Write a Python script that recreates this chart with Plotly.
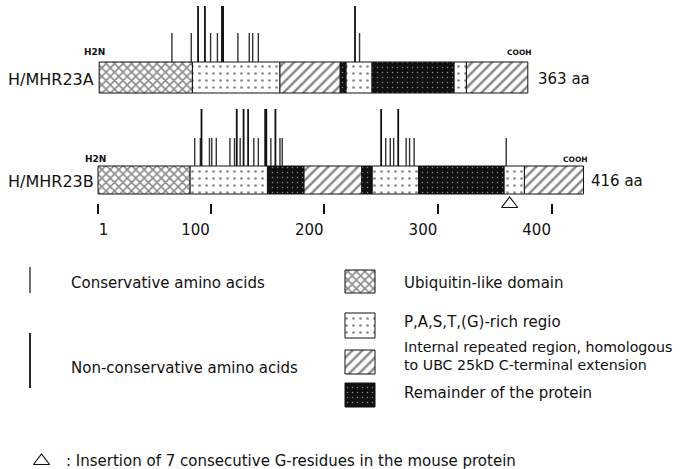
import plotly.graph_objects as go

W, H = 690, 469
PX0, PXS = 96.9, 1.137  # pixel of residue 0, pixels per residue


def aa(px):
    return (px - PX0) / PXS


def fx(px):
    return px / W


def fy(py):
    return 1 - py / H


# ---------------- data ----------------
protein_names = ["H/MHR23A", "H/MHR23B"]
protein_lengths = ["363 aa", "416 aa"]
a_bounds = [2, 84, 161, 214, 219, 242, 314, 325, 379]
a_types = ["ubq", "past", "rep", "rem", "past", "rem", "past", "rep"]
b_bounds = [1, 82, 150, 182, 233, 242, 283, 358, 376, 428]
b_types = ["ubq", "past", "rem", "rep", "rem", "past", "rem", "past", "rep"]
a_cons = [66, 83, 100, 106, 124, 134, 137, 142, 231]
a_noncons = [89, 95, 110, 111, 227]
b_cons = [86, 91, 99, 101, 105, 117, 121, 126, 138, 142, 153, 161, 163,
          254, 258, 261, 272, 275, 279, 360]
b_noncons = [92, 123, 129, 133, 148, 149, 157, 250, 265]
insertion_pos = [363]
tick_vals = [1, 100, 200, 300, 400]
region_types = ["ubq", "past", "rep", "rem"]
region_labels = ["Ubiquitin-like domain", "P,A,S,T,(G)-rich regio",
                 "Internal repeated region, homologous<br>to UBC 25kD C-terminal extension",
                 "Remainder of the protein"]

# ---------------- styles ----------------
FONT = "DejaVu Sans, Liberation Sans, Arial"
INK = "#111111"
pat = {
    "ubq": dict(shape="x", bgcolor="white", fgcolor=INK, size=6, solidity=0.45),
    "past": dict(shape=".", bgcolor="white", fgcolor=INK, size=7, solidity=0.12),
    "rep": dict(shape="/", bgcolor="white", fgcolor=INK, size=7, solidity=0.35),
    "rem": dict(shape=".", bgcolor=INK, fgcolor="white", size=5, solidity=0.07),
}

rows = [  # (center y px, height px)
    (77.5, 31),
    (180, 28),
]
swatch_rows = {"ubq": (281.5, 23), "past": (325.5, 25), "rep": (362, 24), "rem": (395, 24)}

fig = go.Figure()

for t in region_types:
    base, length, ys, widths = [], [], [], []
    for (bounds, types), (yc, hgt) in zip([(a_bounds, a_types), (b_bounds, b_types)], rows):
        for i, tt in enumerate(types):
            if tt == t:
                base.append(bounds[i])
                length.append(bounds[i + 1] - bounds[i])
                ys.append(yc)
                widths.append(hgt)
    # legend swatch
    sy, sh = swatch_rows[t]
    base.append(aa(345))
    length.append(aa(375) - aa(345))
    ys.append(sy)
    widths.append(sh)
    fig.add_trace(go.Bar(
        orientation="h", base=base, x=length, y=ys, width=widths,
        marker=dict(color=pat[t]["bgcolor"], pattern=pat[t],
                    line=dict(color=INK, width=1)),
        hoverinfo="skip", showlegend=False))


def vlines(positions, bottom, top):
    xs, ys = [], []
    for p in positions:
        xs += [p, p, None]
        ys += [bottom, top, None]
    return xs, ys


line_specs = [
    (a_cons, 62, 33, 1.4, "#333333"),
    (a_noncons, 62, 6, 1.8, INK),
    (b_cons, 166, 138, 1.4, "#333333"),
    (b_noncons, 166, 109, 1.8, INK),
]
for pos, bot, top, w, c in line_specs:
    xs, ys = vlines(pos, bot, top)
    fig.add_trace(go.Scatter(x=xs, y=ys, mode="lines",
                             line=dict(color=c, width=w),
                             hoverinfo="skip", showlegend=False))

# legend lines
xs, ys = vlines([aa(30)], 293, 267)
fig.add_trace(go.Scatter(x=xs, y=ys, mode="lines", line=dict(color="#333333", width=1.4),
                         hoverinfo="skip", showlegend=False))
xs, ys = vlines([aa(30)], 388, 333)
fig.add_trace(go.Scatter(x=xs, y=ys, mode="lines", line=dict(color=INK, width=1.8),
                         hoverinfo="skip", showlegend=False))

# insertion triangles
fig.add_trace(go.Scatter(x=insertion_pos, y=[204] * len(insertion_pos), mode="markers",
                         marker=dict(symbol="triangle-up-open", size=14,
                                     color=INK, line=dict(color=INK, width=1.2)),
                         hoverinfo="skip", showlegend=False))
fig.add_trace(go.Scatter(x=[aa(41.5)], y=[461], mode="markers",
                         marker=dict(symbol="triangle-up-open", size=14,
                                     color=INK, line=dict(color=INK, width=1.2)),
                         hoverinfo="skip", showlegend=False))

# invisible trace so the second (overlaying) axis carrying the "1" tick is drawn
fig.add_trace(go.Scatter(x=tick_vals[:1], y=[203], xaxis="x2", mode="markers",
                         marker=dict(opacity=0), hoverinfo="skip", showlegend=False))

# ---------------- text ----------------
ann = []


def text(t, px, py, size, bold=False, anchor="left"):
    s = f"<b>{t}</b>" if bold else t
    ann.append(dict(text=s, x=fx(px), y=fy(py), xref="paper", yref="paper",
                    xanchor=anchor, yanchor="middle", align="left", showarrow=False,
                    font=dict(family=FONT, size=size, color=INK)))


text(protein_names[0], 6, 79, 16)
text(protein_names[1], 6, 181, 16)
text(protein_lengths[0], 536, 79, 15)
text(protein_lengths[1], 589, 181, 15)
text("H2N", 82, 52, 9, bold=True)
text("H2N", 83, 159, 9, bold=True)
text("COOH", 505, 53, 7.5, bold=True)
text("COOH", 561, 159, 7.5, bold=True)

text("Conservative amino acids", 69, 283, 15)
text("Non-conservative amino acids", 69, 368, 15)
text(region_labels[0], 402, 283, 15)
text(region_labels[1], 402, 322, 15)
text(region_labels[2], 402, 355.5, 14.2)
text(region_labels[3], 402, 393, 15)
text(": Insertion of 7 consecutive G-residues in the mouse protein", 64, 461, 15)

axis_common = dict(range=[aa(0), aa(W)], showgrid=False, zeroline=False, showline=False,
                   ticks="outside", ticklen=10, tickwidth=1.5, tickcolor=INK,
                   tickfont=dict(family=FONT, size=15, color=INK),
                   ticklabelstandoff=13,
                   anchor="free", position=fy(203), automargin=False, fixedrange=True)

fig.update_layout(
    width=W, height=H,
    margin=dict(l=0, r=0, t=0, b=0),
    paper_bgcolor="white", plot_bgcolor="white",
    barmode="overlay", showlegend=False,
    annotations=ann,
    xaxis=dict(tickvals=tick_vals[1:], ticklabelposition="outside left", **axis_common),
    xaxis2=dict(tickvals=tick_vals[:1], ticklabelposition="outside right",
                overlaying="x", **axis_common),
    yaxis=dict(range=[H, 0], visible=False, fixedrange=True),
)

fig.write_html("out.html", config={"displayModeBar": False},
               post_script="document.body.style.margin='0';document.body.style.overflow='hidden';")
